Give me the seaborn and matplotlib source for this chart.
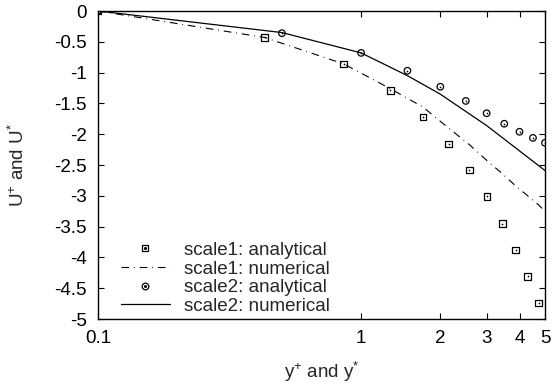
import numpy as np
import pandas as pd
import matplotlib
matplotlib.use("Agg")
import matplotlib.pyplot as plt
import seaborn as sns
from matplotlib.legend_handler import HandlerTuple
from matplotlib.lines import Line2D
from matplotlib.ticker import FixedLocator, NullLocator, FixedFormatter

# scale1: analytical (squares)
s1_ana_x = [0.1, 0.43, 0.86, 1.29, 1.72, 2.15, 2.58, 3.01, 3.44, 3.87, 4.30, 4.73]
s1_ana_y = [0.0, -0.43, -0.86, -1.29, -1.72, -2.16, -2.58, -3.01, -3.45, -3.88, -4.31, -4.74]
# scale1: numerical (dash-dot)
s1_num_x = [0.1, 0.43, 0.86, 1.29, 1.72, 2.15, 2.58, 3.01, 3.44, 3.87, 4.30, 4.73, 5.0]
s1_num_y = [0.0, -0.43, -0.86, -1.26, -1.56, -1.90, -2.17, -2.43, -2.64, -2.84, -3.00, -3.15, -3.25]
# scale2: analytical (circles)
s2_ana_x = [0.1, 0.5, 1.0, 1.5, 2.0, 2.5, 3.0, 3.5, 4.0, 4.5, 5.0]
s2_ana_y = [0.0, -0.36, -0.68, -0.97, -1.23, -1.46, -1.66, -1.83, -1.96, -2.06, -2.14]
# scale2: numerical (solid)
s2_num_x = [0.1, 0.5, 1.0, 1.5, 2.0, 3.0, 5.0]
s2_num_y = [0.0, -0.35, -0.68, -1.05, -1.35, -1.86, -2.59]

xticks = [0.1, 1, 2, 3, 4, 5]
xticklabels = ["0.1", "1", "2", "3", "4", "5"]
yticks = [-5, -4.5, -4, -3.5, -3, -2.5, -2, -1.5, -1, -0.5, 0]
yticklabels = ["-5", "-4.5", "-4", "-3.5", "-3", "-2.5", "-2", "-1.5", "-1", "-0.5", "0"]
legend_labels = ["scale1: analytical", "scale1: numerical",
                 "scale2: analytical", "scale2: numerical"]

sns.set_theme(style="ticks")
plt.rcParams["font.family"] = ["Liberation Sans", "DejaVu Sans"]
plt.rcParams["mathtext.default"] = "regular"
plt.rcParams["lines.scale_dashes"] = False

DD = (0, (5.5, 3.5, 0.6, 3.5))
FS = 13.5

fig = plt.figure(figsize=(5.53, 3.85), dpi=100)
ax = fig.add_axes([98 / 553, 1 - 319 / 385, (545 - 98) / 553, (319 - 11) / 385])

# lines
sns.lineplot(x=s1_num_x, y=s1_num_y, ax=ax, color="black", lw=0.8,
             linestyle=DD, estimator=None, sort=False)
sns.lineplot(x=s2_num_x, y=s2_num_y, ax=ax, color="black", lw=0.9,
             linestyle="-", estimator=None, sort=False)
# markers
sns.scatterplot(x=s1_ana_x, y=s1_ana_y, ax=ax, marker="s", s=24,
                facecolor="none", edgecolor="black", linewidth=0.9, zorder=3)
sns.scatterplot(x=s1_ana_x, y=s1_ana_y, ax=ax, marker="o", s=1.5,
                color="black", linewidth=0, zorder=4)
sns.scatterplot(x=s2_ana_x, y=s2_ana_y, ax=ax, marker="o", s=22,
                facecolor="none", edgecolor="black", linewidth=0.9, zorder=3)
sns.scatterplot(x=s2_ana_x, y=s2_ana_y, ax=ax, marker="o", s=1.5,
                color="black", linewidth=0, zorder=4)

ax.set_xscale("log")
ax.set_xlim(0.1, 5)
ax.set_ylim(-5, 0)
ax.xaxis.set_major_locator(FixedLocator(xticks))
ax.xaxis.set_major_formatter(FixedFormatter(xticklabels))
ax.xaxis.set_minor_locator(NullLocator())
ax.yaxis.set_major_locator(FixedLocator(yticks))
ax.yaxis.set_major_formatter(FixedFormatter(yticklabels))

ax.tick_params(axis="both", which="major", direction="in", length=4, width=0.8,
               top=True, right=True, labelsize=FS, pad=8, colors="black")
for sp in ax.spines.values():
    sp.set_visible(True)
    sp.set_color("black")
    sp.set_linewidth(1.0)

ax.set_xlabel("y$^{+}$ and y$^{*}$", fontsize=FS, labelpad=9)
ax.set_ylabel("U$^{+}$ and U$^{*}$", fontsize=FS, labelpad=19)

# legend handles
h_sq = (Line2D([], [], marker="s", ls="none", mfc="none", mec="black", ms=5.0, mew=0.9),
        Line2D([], [], marker="o", ls="none", color="black", ms=1.2))
h_dd = Line2D([], [], color="black", lw=0.8, linestyle=DD)
h_ci = (Line2D([], [], marker="o", ls="none", mfc="none", mec="black", ms=4.8, mew=0.9),
        Line2D([], [], marker="o", ls="none", color="black", ms=1.2))
h_so = Line2D([], [], color="black", lw=0.9)
ax.legend([h_sq, h_dd, h_ci, h_so], legend_labels,
          handler_map={tuple: HandlerTuple(ndivide=1, pad=0)},
          loc="lower left", bbox_to_anchor=(0.026, -0.023), frameon=False, fontsize=FS,
          handlelength=2.6, handletextpad=0.75, labelspacing=0.08, borderaxespad=0.2)

fig.savefig("out.png", dpi=100)
